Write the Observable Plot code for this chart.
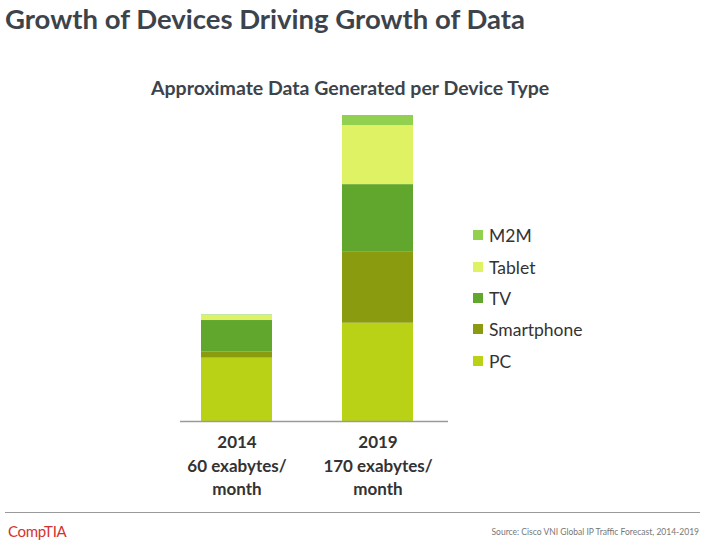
<!DOCTYPE html>
<html>
<head>
<meta charset="utf-8">
<script src="https://cdn.jsdelivr.net/npm/d3@7"></script>
<script src="https://cdn.jsdelivr.net/npm/@observablehq/plot@0.6"></script>
<style>
  html, body { margin: 0; padding: 0; background: #fff; }
  #wrap { position: relative; width: 707px; height: 545px; overflow: hidden; font-family: Lato, "Open Sans", sans-serif; }
  .abs { position: absolute; white-space: nowrap; line-height: 1; }
  #title { left: 5px; top: 5px; font-size: 27.5px; font-weight: bold; color: #3d434b; }
  #subtitle { left: 151px; top: 78px; font-size: 19.5px; font-weight: bold; color: #3d434b; }
  #chart { position: absolute; left: 0; top: 100px; }
  .leg { position: absolute; left: 473px; display: flex; align-items: center; font-size: 17.5px; color: #333; }
  .leg span.sw { width: 10px; height: 10px; margin-right: 6px; display: inline-block; }
  #rule { position: absolute; left: 5px; width: 695px; top: 512px; height: 1px; background: #9a9a9a; }
  #logo { left: 8px; top: 524px; font-size: 15px; color: #d2332f; letter-spacing: -0.3px; }
  #source { right: 8px; top: 528px; font-size: 8.5px; color: #777; }
</style>
</head>
<body>
<div id="wrap">
  <div id="title" class="abs">Growth of Devices Driving Growth of Data</div>
  <div id="subtitle" class="abs">Approximate Data Generated per Device Type</div>
  <div id="chart"></div>
  <div id="legend"></div>
  <div id="rule"></div>
  <div id="logo" class="abs">CompTIA</div>
  <div id="source" class="abs">Source: Cisco VNI Global IP Traffic Forecast, 2014-2019</div>
</div>
<script>
const years = ["2014", "2019"];
const totalLabels = ["60 exabytes/", "170 exabytes/"];
const unitLabel = "month";
const devices = ["PC", "Smartphone", "TV", "Tablet", "M2M"];
const colors = ["#b9d215", "#8b9b0f", "#61a72e", "#dff264", "#92d050"];
const pc = [35.2, 54.6];
const smartphone = [3.3, 39.4];
const tv = [17.6, 37.6];
const tablet = [2.8, 32.8];
const m2m = [0.3, 5.6];

const series = [pc, smartphone, tv, tablet, m2m];
const data = [];
devices.forEach((dev, i) => {
  years.forEach((yr, j) => data.push({year: yr, device: dev, value: series[i][j]}));
});
const yMax = d3.max(years, (yr, j) => d3.sum(series, s => s[j]));

const chart = Plot.plot({
  width: 707,
  height: 400,
  marginLeft: 180,
  marginRight: 259,
  marginTop: 15,
  marginBottom: 79,
  style: {fontFamily: "Lato, 'Open Sans', sans-serif", background: "transparent"},
  x: {domain: years, paddingInner: 0.5, paddingOuter: 0.2, align: 0.38, label: null},
  y: {domain: [0, yMax], axis: null},
  color: {domain: devices, range: colors},
  marks: [
    Plot.barY(data, {x: "year", y: "value", fill: "device", order: devices}),
    Plot.ruleY([0], {stroke: "#9a9a9a", strokeWidth: 1.5}),
    Plot.axisX({
      tickSize: 0,
      tickPadding: 10,
      fontSize: 17,
      fontWeight: "bold",
      fill: "#333",
      lineHeight: 1.38,
      tickFormat: (d) => d + "\n" + totalLabels[years.indexOf(d)] + "\n" + unitLabel,
      label: null
    })
  ]
});
document.getElementById("chart").appendChild(chart);

const legend = document.getElementById("legend");
const centers = [235, 267, 298, 329, 361];
devices.slice().reverse().forEach((dev, k) => {
  const item = document.createElement("div");
  item.className = "leg";
  item.style.top = (centers[k] - 10) + "px";
  item.style.height = "20px";
  const sw = document.createElement("span");
  sw.className = "sw";
  sw.style.background = colors[devices.indexOf(dev)];
  const label = document.createElement("span");
  label.textContent = dev;
  item.appendChild(sw);
  item.appendChild(label);
  legend.appendChild(item);
});
</script>
</body>
</html>
